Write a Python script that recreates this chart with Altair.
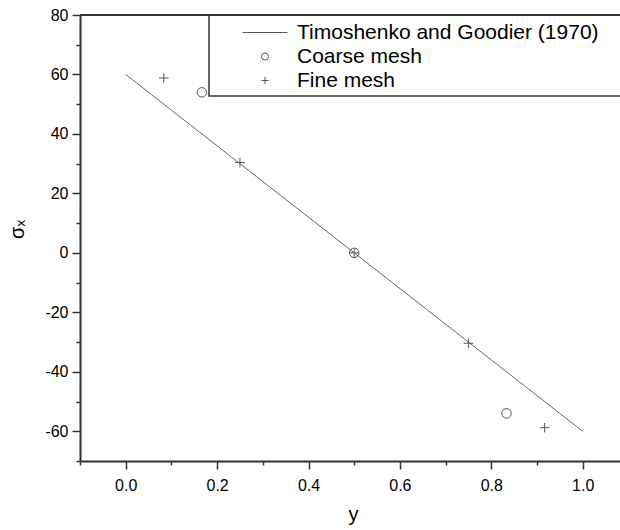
import altair as alt
import pandas as pd

# ---- data ----
series_names = ["Timoshenko and Goodier (1970)", "Coarse mesh", "Fine mesh"]
theory_y = [0.0, 1.0]
theory_sigma = [60.0, -60.0]
coarse_y = [0.1667, 0.5, 0.8333]
coarse_sigma = [54.0, 0.0, -54.0]
fine_y = [0.0833, 0.25, 0.5, 0.75, 0.9167]
fine_sigma = [58.8, 30.4, 0.0, -30.4, -58.8]
x_major = [0.0, 0.2, 0.4, 0.6, 0.8, 1.0]
x_minor = [-0.1, 0.1, 0.3, 0.5, 0.7, 0.9]
y_major = [-60, -40, -20, 0, 20, 40, 60, 80]
y_minor = [-70, -50, -30, -10, 10, 30, 50, 70]
x_domain = [-0.1, 1.0816]
y_domain = [-70, 80]

W, H = 540, 446
FONT = "Liberation Sans"
AX = "#333333"
MK = "#555555"

theory_df = pd.DataFrame({"y": theory_y, "s": theory_sigma, "series": series_names[0]})
pts_df = pd.concat([
    pd.DataFrame({"y": coarse_y, "s": coarse_sigma, "series": series_names[1]}),
    pd.DataFrame({"y": fine_y, "s": fine_sigma, "series": series_names[2]}),
])
dummy = pd.DataFrame({"k": [0]})

common = dict(grid=False, labelFontSize=16, labelFont=FONT, labelColor="black",
              titleFontSize=20, titleFont=FONT, titleFontWeight="normal", titleColor="black",
              domainColor=AX, domainWidth=2, tickColor=AX, tickWidth=1.5,
              labelFlush=False, labelOverlap=False)

x_axis = alt.Axis(values=x_major, title="y", orient="bottom", format=".1f",
                  tickSize=8, labelPadding=8, titleX=273, titleY=59,
                  titleBaseline="alphabetic", **common)
y_axis = alt.Axis(values=y_major, title="σₓ", orient="left", format="d",
                  labelExpr="replace(datum.label, '\u2212', '-')",
                  tickSize=8, labelPadding=4,
                  titleAngle=270, titleX=-57, titleY=214, titleAlign="center",
                  titleBaseline="alphabetic", **common)
x_axis_minor = alt.Axis(values=x_minor, title=None, orient="bottom", labels=False, domain=False,
                        tickSize=4, grid=False, tickColor=AX, tickWidth=1.5)
y_axis_minor = alt.Axis(values=y_minor, title=None, orient="left", labels=False, domain=False,
                        tickSize=4, grid=False, tickColor=AX, tickWidth=1.5)

xs = alt.Scale(domain=x_domain, nice=False, zero=False)
ys = alt.Scale(domain=y_domain, nice=False, zero=False)

line = alt.Chart(theory_df).mark_line(color="#666666", strokeWidth=1).encode(
    x=alt.X("y:Q", scale=xs, axis=x_axis),
    y=alt.Y("s:Q", scale=ys, axis=y_axis),
)

minor = alt.Chart(theory_df).mark_line(opacity=0).encode(
    x=alt.X("y:Q", scale=xs, axis=x_axis_minor),
    y=alt.Y("s:Q", scale=ys, axis=y_axis_minor),
)

points = alt.Chart(pts_df).mark_point(filled=False, size=90, strokeWidth=1, color=MK, opacity=1).encode(
    x=alt.X("y:Q", scale=xs, axis=None),
    y=alt.Y("s:Q", scale=ys, axis=None),
    shape=alt.Shape(
        "series:N",
        scale=alt.Scale(
            domain=series_names,
            range=["M-6.4,0L6.4,0", "circle", "M-1,0L1,0M0,-1L0,1"],
        ),
        legend=alt.Legend(
            title=None, orient="none", legendX=174.5, legendY=7,
            padding=0, symbolSize=49, symbolStrokeColor=MK, symbolFillColor="transparent",
            symbolStrokeWidth=1, labelFontSize=21, labelFont=FONT, labelColor="black",
            labelOffset=21.5, rowPadding=2, labelLimit=400,
        ),
    ),
)

box = alt.Chart(dummy).mark_rect(fill="white", stroke=AX, strokeWidth=1.5).encode(
    x=alt.value(129), x2=alt.value(W + 20), y=alt.value(0), y2=alt.value(81)
)
top_rule = alt.Chart(dummy).mark_rule(color=AX, strokeWidth=2).encode(
    x=alt.value(0), x2=alt.value(W), y=alt.value(0)
)

chart = alt.layer(line, minor, points, box, top_rule).resolve_axis(
    x="independent", y="independent"
).properties(
    width=W, height=H,
    autosize=alt.AutoSizeParams(type="none"),
    padding={"left": 80, "top": 15, "right": 0, "bottom": 69},
).configure_view(stroke=None).configure(background="white")

chart.save("out.html", embed_options={"renderer": "svg", "actions": False})
